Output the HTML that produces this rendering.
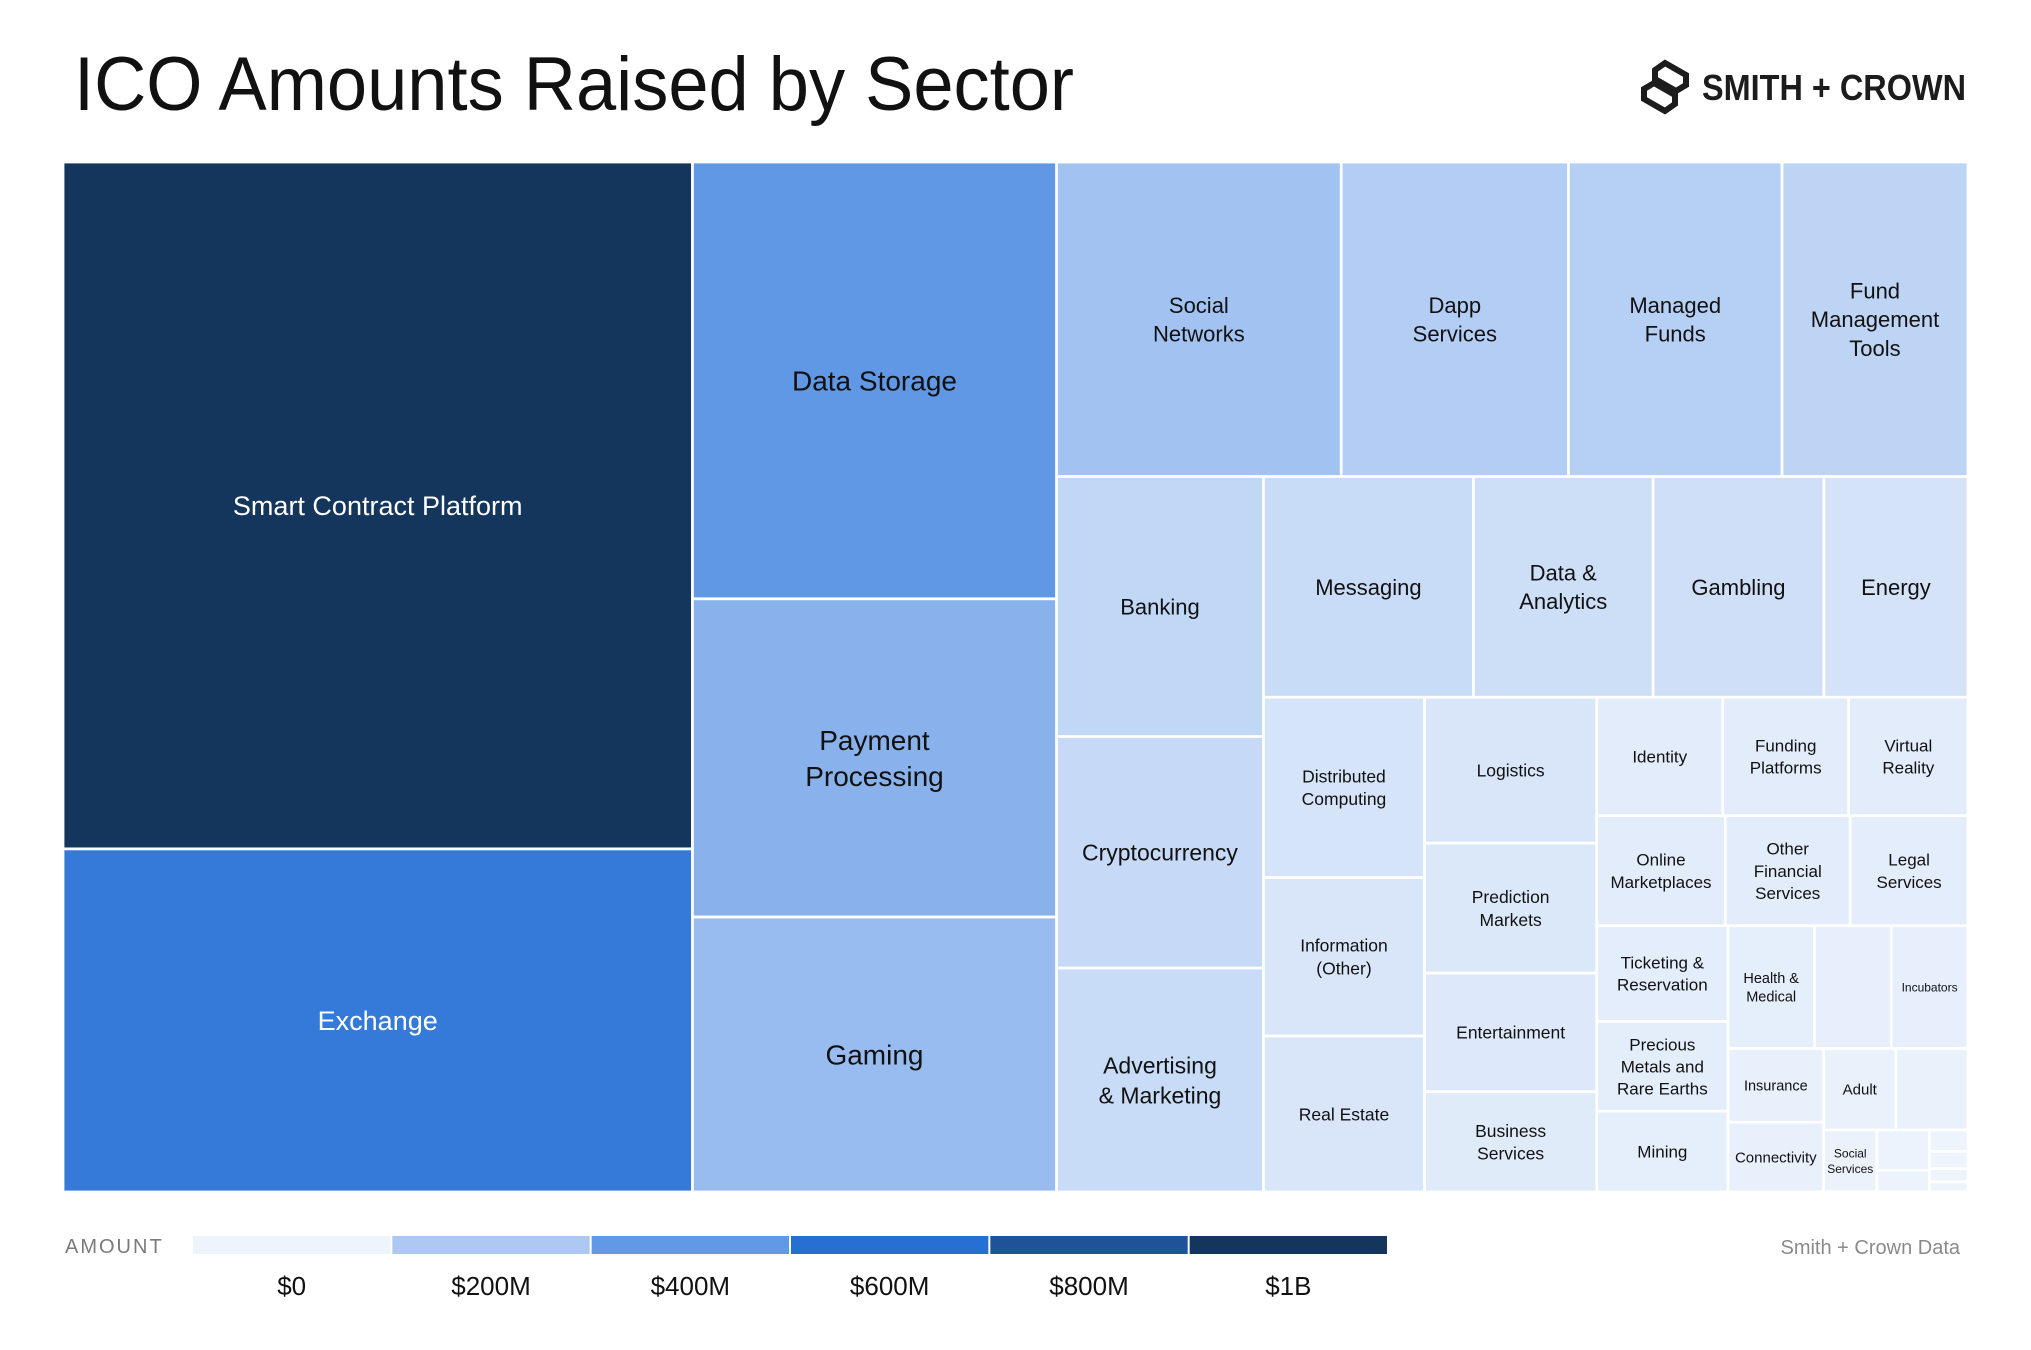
<!DOCTYPE html>
<html><head><meta charset="utf-8"><title>ICO Amounts Raised by Sector</title>
<style>
html,body{margin:0;padding:0;background:#fff;}
svg{display:block;font-family:"Liberation Sans",Arial,sans-serif;}
</style></head>
<body>
<svg id="chart" width="2031" height="1350" viewBox="0 0 2031 1350" xmlns="http://www.w3.org/2000/svg">
  <rect x="0" y="0" width="2031" height="1350" fill="#fff"/>
  <text x="74" y="110" font-size="76" fill="#111" textLength="1000" lengthAdjust="spacingAndGlyphs">ICO Amounts Raised by Sector</text>
  <g>
    <path d="M1665 63 L1686 75 L1686 85 L1676 91 L1655 79 L1655 70 Z M1665 111 L1644 99 L1644 89 L1654 83 L1675 95 L1675 104 Z" fill="none" stroke="#1c1c1c" stroke-width="6" stroke-linejoin="miter"/>
    <text x="1702" y="100" font-size="36" font-weight="bold" fill="#1c1c1c" textLength="264" lengthAdjust="spacingAndGlyphs">SMITH + CROWN</text>
  </g>
  <g id="cells"></g>
  <g id="legend">
    <text x="65" y="1253" font-size="20" fill="#7a7a7a" letter-spacing="2">AMOUNT</text>
  </g>
  <text x="1960" y="1254" font-size="20" fill="#8a8a8a" text-anchor="end">Smith + Crown Data</text>
</svg>
<script>
// ---- data ----
const sectorNames = ["Smart Contract Platform","Exchange","Data Storage","Payment\nProcessing","Gaming",
"Social\nNetworks","Dapp\nServices","Managed\nFunds","Fund\nManagement\nTools",
"Banking","Cryptocurrency","Advertising\n& Marketing",
"Messaging","Data &\nAnalytics","Gambling","Energy",
"Distributed\nComputing","Information\n(Other)","Real Estate",
"Logistics","Prediction\nMarkets","Entertainment","Business\nServices",
"Identity","Funding\nPlatforms","Virtual\nReality",
"Online\nMarketplaces","Other\nFinancial\nServices","Legal\nServices",
"Ticketing &\nReservation","Precious\nMetals and\nRare Earths","Mining",
"Health &\nMedical","","Incubators",
"Insurance","Connectivity",
"Adult","",
"Social\nServices","","","","","",""];
// amounts raised, $M (estimated)
const sectorValues = [1101,550,405,295,255,
228,182,171,149,
137,122,118,
118,101,96,81,
74,65,64,
64,57,52,44,
38,38,36,
36,35,33,
32,30,27,
27,24,24,
18,17,
15,15,
8.4,5.4,2.9,2.1,1.7,1.3,1.0];
const legendTicks = ["$0","$200M","$400M","$600M","$800M","$1B"];
const legendStops = [0,200,400,600,800,1000];
const legendColors = ["#eef4fc","#adc9f3","#6199e6","#2670d4","#1f5399","#14365d"];

// nesting of the slice layout (indices into the arrays above)
const layoutTree = {d:'h',c:[
 {d:'v',c:[0,1]},
 {d:'v',c:[2,3,4]},
 {d:'v',c:[
   {d:'h',c:[5,6,7,8]},
   {d:'h',c:[
     {d:'v',c:[9,10,11]},
     {d:'v',c:[
       {d:'h',c:[12,13,14,15]},
       {d:'h',c:[
         {d:'v',c:[16,17,18]},
         {d:'v',c:[19,20,21,22]},
         {d:'v',c:[
           {d:'h',c:[23,24,25]},
           {d:'h',c:[26,27,28]},
           {d:'h',c:[
             {d:'v',c:[29,30,31]},
             {d:'v',c:[
               {d:'h',c:[32,33,34]},
               {d:'h',c:[
                 {d:'v',c:[35,36]},
                 {d:'v',c:[
                   {d:'h',c:[37,38]},
                   {d:'h',c:[39,{d:'v',c:[40,41]},{d:'v',c:[42,43,44,45]}]}
                 ]}
               ]}
             ]}
           ]}
         ]}
       ]}
     ]}
   ]}
 ]}
]};

// label font sizes (style)
const fontSizes = [27,27,28,28,28, 22,22,22,22, 22,23,23, 22,22,22,22,
 17.5,17.5,17.5, 17.5,17.5,17.5,17.5, 17,17,17, 17,17,17, 17,17,17,
 14.5,14,12, 14.5,15, 15,14, 12,10,10,10,10,10,10];

const X0=63,Y0=162,W=1905,H=1030,GAP=1.4;
const NS="http://www.w3.org/2000/svg";

function nodeSum(n){return typeof n==='number'?sectorValues[n]:n.c.reduce((s,k)=>s+nodeSum(k),0);}
function hex(c){return [1,3,5].map(i=>parseInt(c.substr(i,2),16));}
function colorScale(v){
  if(v<=legendStops[0])return legendColors[0];
  for(let i=1;i<legendStops.length;i++){
    if(v<=legendStops[i]){
      const t=(v-legendStops[i-1])/(legendStops[i]-legendStops[i-1]);
      const a=hex(legendColors[i-1]),b=hex(legendColors[i]);
      return 'rgb('+a.map((x,k)=>Math.round(x+(b[k]-x)*t)).join(',')+')';
    }
  }
  return legendColors[legendColors.length-1];
}
const cells=document.getElementById('cells');
function drawLeaf(i,x,y,w,h){
  const r=document.createElementNS(NS,'rect');
  r.setAttribute('x',x+GAP);r.setAttribute('y',y+GAP);
  r.setAttribute('width',Math.max(0,w-2*GAP));r.setAttribute('height',Math.max(0,h-2*GAP));
  r.setAttribute('fill',colorScale(sectorValues[i]));
  
  
  cells.appendChild(r);
  if(sectorNames[i]){
    const lines=sectorNames[i].split('\n');
    const fs=fontSizes[i],lh=fs*1.3;
    const t=document.createElementNS(NS,'text');
    t.setAttribute('text-anchor','middle');
    t.setAttribute('font-size',fs);
    t.setAttribute('fill',sectorValues[i]>450?'#ffffff':'#111111');
    
    
    const cx=x+w/2,cy=y+h/2-(lines.length-1)*lh/2+fs*0.36;
    lines.forEach((ln,k)=>{
      const s=document.createElementNS(NS,'tspan');
      s.setAttribute('x',cx);s.setAttribute('y',cy+k*lh);
      s.textContent=ln;t.appendChild(s);
    });
    cells.appendChild(t);
  }
}
function layout(n,x,y,w,h){
  if(typeof n==='number'){drawLeaf(n,x,y,w,h);return;}
  const tot=nodeSum(n);let off=0;
  n.c.forEach(ch=>{
    const f=nodeSum(ch)/tot;
    if(n.d==='h'){layout(ch,x+off,y,w*f,h);off+=w*f;}
    else{layout(ch,x,y+off,w,h*f);off+=h*f;}
  });
}
layout(layoutTree,X0,Y0,W,H);

// legend
const lg=document.getElementById('legend');
const LX=192,LW=1196,LY=1236,LH=18,segW=LW/legendColors.length;
legendColors.forEach((c,i)=>{
  const r=document.createElementNS(NS,'rect');
  r.setAttribute('x',LX+i*segW+1);r.setAttribute('y',LY);
  r.setAttribute('width',segW-2);r.setAttribute('height',LH);
  r.setAttribute('fill',c);
  
  
  lg.appendChild(r);
  const t=document.createElementNS(NS,'text');
  t.setAttribute('x',LX+i*segW+segW/2);t.setAttribute('y',1295);
  t.setAttribute('text-anchor','middle');t.setAttribute('font-size',26);
  t.setAttribute('fill','#111');
  
  
  t.textContent=legendTicks[i];
  lg.appendChild(t);
});
</script>
</body></html>
